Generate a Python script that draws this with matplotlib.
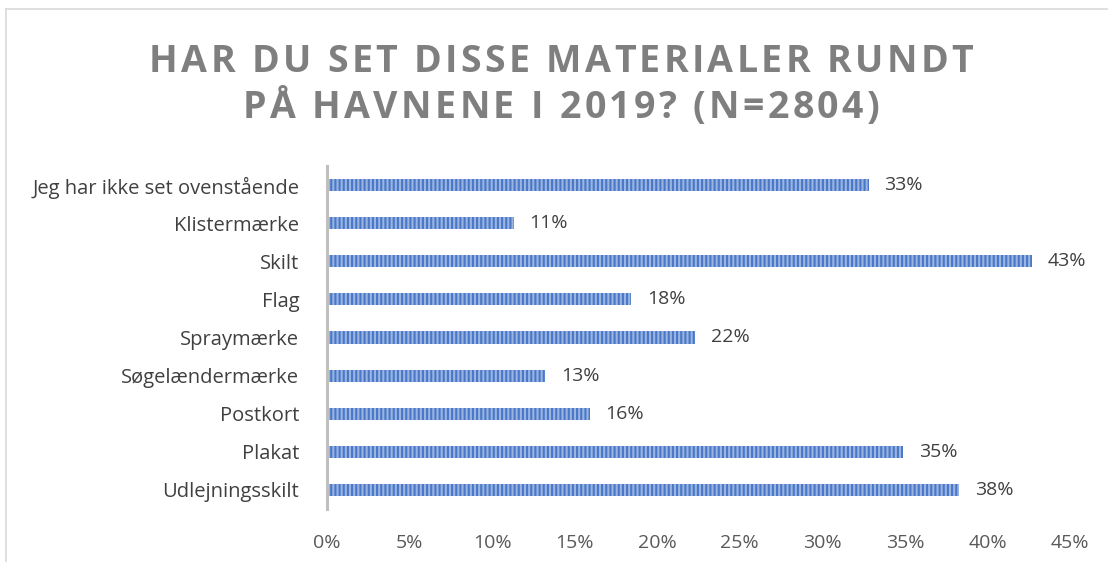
import matplotlib
matplotlib.use("Agg")
import matplotlib.pyplot as plt
from matplotlib.font_manager import FontProperties
from matplotlib.ticker import FuncFormatter
from matplotlib.lines import Line2D

plt.rcParams["font.family"] = ["Open Sans", "DejaVu Sans"]
plt.rcParams["hatch.linewidth"] = 1.5

# Survey answers, bottom-to-top order as drawn
categories = [
    "Udlejningsskilt",
    "Plakat",
    "Postkort",
    "Søgelændermærke",
    "Spraymærke",
    "Flag",
    "Skilt",
    "Klistermærke",
    "Jeg har ikke set ovenstående",
]
shares = [0.383, 0.349, 0.159, 0.132, 0.223, 0.184, 0.427, 0.113, 0.328]
x_ticks = [0.00, 0.05, 0.10, 0.15, 0.20, 0.25, 0.30, 0.35, 0.40, 0.45]
title_lines = ["HAR DU SET DISSE MATERIALER RUNDT", "PÅ HAVNENE I 2019? (N=2804)"]

W, H, DPI = 1108, 562, 100
fig = plt.figure(figsize=(W / DPI, H / DPI), dpi=DPI)
fig.patch.set_facecolor("white")

# light chart-area frame (left and top edges)
fig.add_artist(Line2D([5.5 / W, 5.5 / W], [0, 1 - 8.5 / H], transform=fig.transFigure,
                      color="#D9D9D9", lw=1.2))
fig.add_artist(Line2D([5.5 / W, 1], [1 - 8.5 / H, 1 - 8.5 / H], transform=fig.transFigure,
                      color="#D9D9D9", lw=1.2))

ax = fig.add_axes([327 / W, 1 - 509 / H, (1070 - 327) / W, (509 - 166) / H])
ypos = list(range(len(categories)))
ax.barh(ypos, shares, height=0.32, color="#9AB5E2", edgecolor="#4A78C6",
        hatch="||||", linewidth=0)

for y, v in zip(ypos, shares):
    ax.annotate(f"{round(v * 100):d}%", (v, y), xytext=(11.5, 0), textcoords="offset points",
                va="center", ha="left", fontsize=14, color="#404040")

ax.set_xlim(0, 0.45)
ax.set_ylim(-0.5, len(categories) - 0.5)
ax.set_xticks(x_ticks)
ax.xaxis.set_major_formatter(FuncFormatter(lambda v, p: f"{round(v * 100):d}%"))
ax.set_yticks(ypos)
ax.set_yticklabels(categories)
for s in ["top", "right", "bottom"]:
    ax.spines[s].set_visible(False)
ax.spines["left"].set_color("#BFBFBF")
ax.spines["left"].set_linewidth(2.2)
ax.tick_params(axis="x", length=0, pad=18, labelsize=14, labelcolor="#595959")
ax.tick_params(axis="y", length=0, pad=20, labelsize=14.5, labelcolor="#404040")

# title with wide letter spacing, drawn glyph by glyph
fig.canvas.draw()
renderer = fig.canvas.get_renderer()
tprop = FontProperties(family=["Open Sans", "DejaVu Sans"], weight="bold", size=27)


def advances(text):
    return [renderer.get_text_width_height_descent(c, tprop, ismath=False)[0] for c in text]


first = advances(title_lines[0])
track = (824 - sum(first)) / (len(title_lines[0]) - 1)
center_x = 561
for line, yc in zip(title_lines, [57, 103]):
    adv = advances(line)
    total = sum(adv) + track * (len(line) - 1)
    x = center_x - total / 2
    for c, a in zip(line, adv):
        fig.text(x / W, 1 - yc / H, c, fontproperties=tprop, color="#7F7F7F",
                 ha="left", va="center_baseline")
        x += a + track

fig.savefig("out.png", dpi=DPI, facecolor="white")
